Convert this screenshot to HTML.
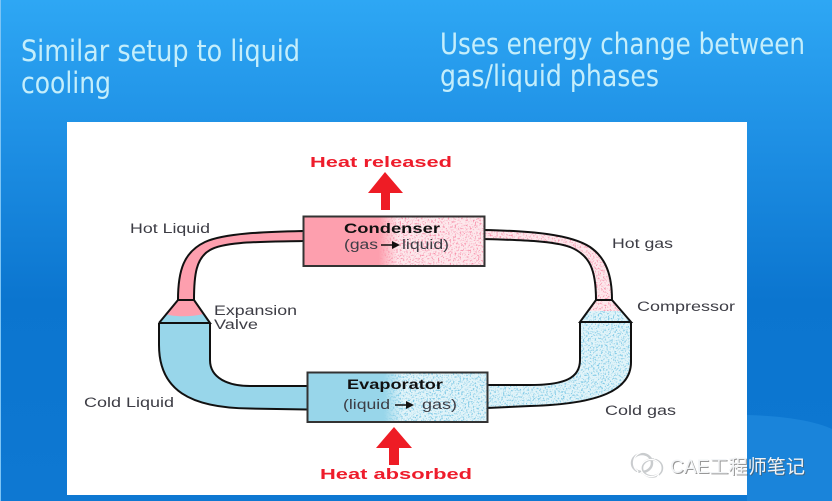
<!DOCTYPE html>
<html><head><meta charset="utf-8"><style>
html,body{margin:0;padding:0;background:#1b88dc}
svg{display:block}
text{font-family:"Liberation Sans","Noto Sans CJK SC",sans-serif}
.l{font-size:13.5px;fill:#3d3d45}
.b{font-size:13.5px;font-weight:bold;fill:#111}
.r{font-size:15px;font-weight:bold;fill:#ee1c2b}
.t{font-family:"DejaVu Sans",sans-serif;font-size:29px;fill:#c4eefb}
</style></head><body>
<svg width="832" height="501" viewBox="0 0 832 501" xmlns="http://www.w3.org/2000/svg">
<defs>
<linearGradient id="bg" x1="0" y1="0" x2="0" y2="1">
<stop offset="0" stop-color="#2ea7f4"/><stop offset=".25" stop-color="#2092e6"/><stop offset=".6" stop-color="#0b75cf"/><stop offset="1" stop-color="#0e78d2"/>
</linearGradient>
<filter id="np" x="0" y="0" width="100%" height="100%" color-interpolation-filters="sRGB">
<feTurbulence type="fractalNoise" baseFrequency=".6" numOctaves="2" seed="4"/>
<feColorMatrix type="matrix" values="0 0 0 0 .97  0 0 0 0 .58  0 0 0 0 .68  5 0 0 0 -2.6"/>
</filter>
<filter id="nb" x="0" y="0" width="100%" height="100%" color-interpolation-filters="sRGB">
<feTurbulence type="fractalNoise" baseFrequency=".6" numOctaves="2" seed="9"/>
<feColorMatrix type="matrix" values="0 0 0 0 .50  0 0 0 0 .79  0 0 0 0 .90  5 0 0 0 -2.55"/>
</filter>
<linearGradient id="fp" x1="0" x2="1" y1="0" y2="0"><stop offset="0" stop-color="#fd9fae"/><stop offset=".8" stop-color="#fd9fae"/><stop offset="1" stop-color="#fd9fae" stop-opacity="0"/></linearGradient>
<linearGradient id="fb" x1="0" x2="1" y1="0" y2="0"><stop offset="0" stop-color="#98d6ea"/><stop offset=".8" stop-color="#98d6ea"/><stop offset="1" stop-color="#98d6ea" stop-opacity="0"/></linearGradient>
<clipPath id="cp"><path d="M484 230C530 231 570 234 590 247C606 258 612 275 612 300L623 313H588L596 300C596 270 590 255 570 247C550 240 510 240 484 239Z"/><rect x="380" y="216" width="104" height="50"/></clipPath>
<clipPath id="cb"><path d="M588 311H623L631 322V362C631 390 600 404 530 406L487 408V385H530C565 385 580 378 580 360V322Z"/><rect x="380" y="372" width="107" height="50"/></clipPath>
</defs>
<rect width="832" height="501" fill="url(#bg)"/>
<path d="M747 415C785 416 815 421 832 429V501H747Z" fill="#1a84da"/>
<rect x="0" y="0" width="1" height="501" fill="#7cc4f5"/>
<rect x="67" y="122" width="680" height="373" fill="#fff"/>

<text class="t" x="21" y="61" textLength="279" lengthAdjust="spacingAndGlyphs">Similar setup to liquid</text>
<text class="t" x="21" y="93" textLength="90" lengthAdjust="spacingAndGlyphs">cooling</text>
<text class="t" x="440" y="54" textLength="365" lengthAdjust="spacingAndGlyphs">Uses energy change between</text>
<text class="t" x="440" y="86" textLength="219" lengthAdjust="spacingAndGlyphs">gas/liquid phases</text>

<!-- noise fills -->
<g clip-path="url(#cp)">
<rect x="380" y="216" width="240" height="100" fill="#fde8ec"/>
<rect x="380" y="216" width="240" height="100" filter="url(#np)"/>
</g>
<g clip-path="url(#cb)">
<rect x="380" y="308" width="255" height="115" fill="#e2f4f9"/>
<rect x="380" y="308" width="255" height="115" filter="url(#nb)"/>
</g>

<!-- left pipes -->
<path d="M303 231C265 232 225 233 205 242C184 252 178 270 178 300H194C194 275 196 258 210 250C225 241 265 242 303 241Z" fill="#fd9fae" stroke="#111" stroke-width="2"/>
<path d="M178 300H194L210 323H159Z" fill="#98d6ea"/>
<path d="M178 300H194L204 314C190 317 175 317 165 314Z" fill="#fd9fae"/>
<path d="M159 323H210V362C210 378 228 386 250 386H307V409L250 408.500C190 408 159 390 159 345Z" fill="#98d6ea"/>
<path d="M303 232V240" stroke="#fd9fae" stroke-width="2"/>
<path d="M210 323V360C210 378 228 386 250 386H307M307 409.500L250 408.500C190 408 159 390 159 345V323M159 323H210L194 300H178L159 323" fill="none" stroke="#111" stroke-width="2"/>

<!-- right pipes -->
<path d="M484 230C530 231 570 234 590 247C606 258 612 275 612 300M484 239C510 240 550 240 570 247C590 255 596 270 596 300" fill="none" stroke="#111" stroke-width="2"/>
<path d="M596 300H612L631 322H580ZM580 322V360C580 378 565 385 530 385H487M631 322V362C631 390 600 404 530 406L487 408" fill="none" stroke="#111" stroke-width="2"/>

<!-- boxes -->
<rect x="303" y="216" width="95" height="50" fill="url(#fp)"/>
<rect x="303.500" y="216.500" width="181" height="49.500" fill="none" stroke="#333" stroke-width="2"/>
<rect x="307" y="372" width="96" height="50" fill="url(#fb)"/>
<rect x="307.500" y="372.500" width="180" height="49.500" fill="none" stroke="#333" stroke-width="2"/>

<!-- red arrows -->
<path d="M385 172L403 193H390V210H381V193H368Z" fill="#ee1c25"/>
<path d="M394 427L412 448H399V465H389V448H376Z" fill="#ee1c25"/>

<text class="r" x="310" y="167" textLength="142" lengthAdjust="spacingAndGlyphs">Heat released</text>
<text class="r" x="320" y="479" textLength="152" lengthAdjust="spacingAndGlyphs">Heat absorbed</text>

<text class="b" x="344" y="233" textLength="96" lengthAdjust="spacingAndGlyphs">Condenser</text>
<text class="l" x="344" y="249" textLength="34" lengthAdjust="spacingAndGlyphs">(gas</text>
<path d="M381 245H393" stroke="#111" stroke-width="1.500"/><path d="M392 241L400 245L392 249Z" fill="#111"/>
<text class="l" x="402" y="249" textLength="47" lengthAdjust="spacingAndGlyphs">liquid)</text>
<text class="b" x="347" y="389" textLength="96" lengthAdjust="spacingAndGlyphs">Evaporator</text>
<text class="l" x="343" y="409" textLength="47" lengthAdjust="spacingAndGlyphs">(liquid</text>
<path d="M395 405H407" stroke="#111" stroke-width="1.500"/><path d="M406 401L414 405L406 409Z" fill="#111"/>
<text class="l" x="422" y="409" textLength="35" lengthAdjust="spacingAndGlyphs">gas)</text>

<text class="l" x="130" y="233" textLength="80" lengthAdjust="spacingAndGlyphs">Hot Liquid</text>
<text class="l" x="214" y="315" textLength="83" lengthAdjust="spacingAndGlyphs">Expansion</text>
<text class="l" x="214" y="329" textLength="44" lengthAdjust="spacingAndGlyphs">Valve</text>
<text class="l" x="84" y="407" textLength="90" lengthAdjust="spacingAndGlyphs">Cold Liquid</text>
<text class="l" x="612" y="248" textLength="61" lengthAdjust="spacingAndGlyphs">Hot gas</text>
<text class="l" x="637" y="311" textLength="98" lengthAdjust="spacingAndGlyphs">Compressor</text>
<text class="l" x="605" y="415" textLength="71" lengthAdjust="spacingAndGlyphs">Cold gas</text>

<!-- watermark -->
<g fill="none" stroke="#8a8f94" stroke-width="2.500" opacity=".45"><ellipse cx="642" cy="463" rx="10" ry="9"/><ellipse cx="652" cy="468" rx="10" ry="8.500"/></g>
<g fill="none" stroke="#fff" stroke-width="1.200"><path d="M638 471C631 468 631.500 453 644 452C651 452 654 456 655 459"/><ellipse cx="651" cy="468" rx="10" ry="8.500"/><path d="M638 471L636 476L642 472"/><path d="M657 476L659 478L658 474"/></g>
<circle cx="647" cy="466" r="1" fill="#fff"/><circle cx="655" cy="466" r="1" fill="#fff"/>
<text x="670" y="473" font-size="19" fill="#555" opacity=".6" transform="translate(1 1)" textLength="135" lengthAdjust="spacingAndGlyphs">CAE工程师笔记</text>
<text x="670" y="473" font-size="19" fill="#f2f4f6" textLength="135" lengthAdjust="spacingAndGlyphs">CAE工程师笔记</text>
</svg>
</body></html>
